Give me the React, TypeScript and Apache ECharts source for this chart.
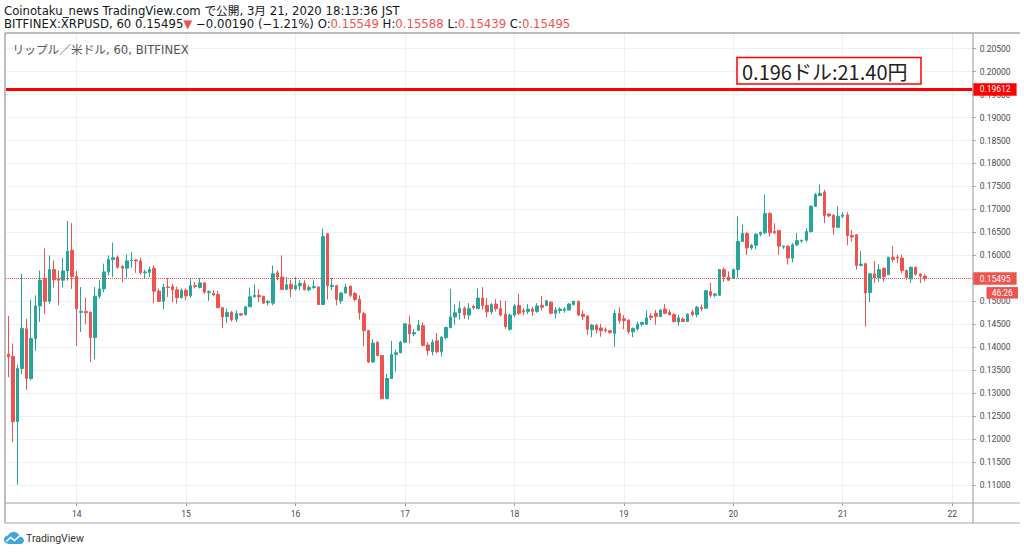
import React, { useEffect, useRef } from "react";
import * as echarts from "echarts";

// ---- data (hourly candles, XRP/USD, BITFINEX, 13 Mar 09:00 JST -> 21 Mar 18:00 JST)
const startDay = 13;
const startHour = 9;
const slotCount = 212; // hours shown on the axis (to 22 Mar ~04:00)

const opens = [
  0.1385, 0.1380, 0.1238, 0.1354, 0.1440, 0.1332, 0.1419, 0.1490, 0.1550, 0.1500,
  0.1569, 0.1549, 0.1546, 0.1566, 0.1611, 0.1554, 0.1476, 0.1478, 0.1476, 0.1421,
  0.1511, 0.1527, 0.1564, 0.1591, 0.1596, 0.1576, 0.1572, 0.1588, 0.1590, 0.1588,
  0.1562, 0.1563, 0.1572, 0.1522, 0.1500, 0.1531, 0.1532, 0.1525, 0.1508, 0.1524,
  0.1512, 0.1534, 0.1530, 0.1540, 0.1519, 0.1517, 0.1515, 0.1486, 0.1467, 0.1476,
  0.1461, 0.1473, 0.1471, 0.1488, 0.1510, 0.1513, 0.1511, 0.1497, 0.1496, 0.1562,
  0.1553, 0.1526, 0.1537, 0.1527, 0.1534, 0.1539, 0.1525, 0.1530, 0.1531, 0.1493,
  0.1647, 0.1532, 0.1534, 0.1501, 0.1518, 0.1533, 0.1517, 0.1504, 0.1473, 0.1436,
  0.1368, 0.1411, 0.1382, 0.1288, 0.1332, 0.1384, 0.1388, 0.1411, 0.1449, 0.1429,
  0.1437, 0.1447, 0.1405, 0.1390, 0.1414, 0.1390, 0.1421, 0.1443, 0.1466, 0.1475,
  0.1485, 0.1470, 0.1489, 0.1484, 0.1507, 0.1491, 0.1477, 0.1494, 0.1484, 0.1472,
  0.1439, 0.1470, 0.1491, 0.1480, 0.1478, 0.1483, 0.1478, 0.1491, 0.1491, 0.1498,
  0.1474, 0.1480, 0.1480, 0.1481, 0.1493, 0.1500, 0.1472, 0.1468, 0.1438, 0.1448,
  0.1442, 0.1438, 0.1436, 0.1430, 0.1474, 0.1462, 0.1459, 0.1434, 0.1440, 0.1450,
  0.1450, 0.1468, 0.1474, 0.1467, 0.1483, 0.1476, 0.1471, 0.1455, 0.1461, 0.1456,
  0.1477, 0.1471, 0.1487, 0.1485, 0.1521, 0.1513, 0.1513, 0.1569, 0.1553, 0.1550,
  0.1569, 0.1630, 0.1648, 0.1616, 0.1622, 0.1646, 0.1649, 0.1691, 0.1652, 0.1654,
  0.1618, 0.1620, 0.1594, 0.1623, 0.1631, 0.1633, 0.1652, 0.1707, 0.1730, 0.1738,
  0.1690, 0.1687, 0.1661, 0.1685, 0.1688, 0.1643, 0.1645, 0.1578, 0.1582, 0.1519,
  0.1560, 0.1551, 0.1572, 0.1558, 0.1596, 0.1596, 0.1594, 0.1567, 0.1549, 0.1574,
  0.1559, 0.15549,
];
const closes = [
  0.1379, 0.1238, 0.1354, 0.1441, 0.1332, 0.1419, 0.1490, 0.1546, 0.1500, 0.1569,
  0.1547, 0.1546, 0.1566, 0.1609, 0.1554, 0.1484, 0.1478, 0.1475, 0.1421, 0.1511,
  0.1527, 0.1564, 0.1591, 0.1595, 0.1574, 0.1572, 0.1588, 0.1589, 0.1588, 0.1562,
  0.1564, 0.1569, 0.1522, 0.1500, 0.1531, 0.1530, 0.1525, 0.1508, 0.1524, 0.1512,
  0.1534, 0.1532, 0.1540, 0.1520, 0.1521, 0.1514, 0.1486, 0.1466, 0.1476, 0.1460,
  0.1473, 0.1470, 0.1488, 0.1510, 0.1513, 0.1510, 0.1496, 0.1500, 0.1560, 0.1553,
  0.1526, 0.1536, 0.1527, 0.1534, 0.1539, 0.1525, 0.1530, 0.1532, 0.1493, 0.1641,
  0.1534, 0.1535, 0.1504, 0.1518, 0.1531, 0.1513, 0.1504, 0.1475, 0.1436, 0.1368,
  0.1409, 0.1382, 0.1288, 0.1332, 0.1384, 0.1388, 0.1411, 0.1451, 0.1429, 0.1432,
  0.1448, 0.1404, 0.1393, 0.1411, 0.1390, 0.1422, 0.1443, 0.1466, 0.1475, 0.1485,
  0.1470, 0.1484, 0.1486, 0.1507, 0.1491, 0.1477, 0.1493, 0.1484, 0.1470, 0.1445,
  0.1470, 0.1490, 0.1474, 0.1477, 0.1483, 0.1478, 0.1490, 0.1487, 0.1501, 0.1474,
  0.1481, 0.1483, 0.1483, 0.1494, 0.1500, 0.1470, 0.1467, 0.1439, 0.1448, 0.1438,
  0.1436, 0.1436, 0.1432, 0.1474, 0.1458, 0.1458, 0.1434, 0.1441, 0.1450, 0.1454,
  0.1464, 0.1465, 0.1467, 0.1481, 0.1474, 0.1471, 0.1456, 0.1464, 0.1456, 0.1472,
  0.1471, 0.1487, 0.1484, 0.1523, 0.1513, 0.1516, 0.1569, 0.1554, 0.1546, 0.1569,
  0.1630, 0.1648, 0.1616, 0.1622, 0.1646, 0.1650, 0.1691, 0.1649, 0.1649, 0.1620,
  0.1620, 0.1594, 0.1623, 0.1632, 0.1633, 0.1652, 0.1707, 0.1732, 0.1735, 0.1687,
  0.1686, 0.1661, 0.1685, 0.1688, 0.1643, 0.1640, 0.1578, 0.1581, 0.1518, 0.1560,
  0.1551, 0.1569, 0.1554, 0.1596, 0.1591, 0.1594, 0.1567, 0.1552, 0.1574, 0.1559,
  0.1555, 0.15495,
];
const lows = [
  0.1335, 0.1194, 0.1101, 0.1342, 0.1308, 0.1328, 0.1392, 0.1455, 0.1473, 0.1495,
  0.1530, 0.1491, 0.1530, 0.1545, 0.1527, 0.1403, 0.1433, 0.1450, 0.1368, 0.1374,
  0.1506, 0.1520, 0.1556, 0.1553, 0.1571, 0.1541, 0.1551, 0.1573, 0.1562, 0.1558,
  0.1551, 0.1553, 0.1496, 0.1498, 0.1483, 0.1509, 0.1498, 0.1495, 0.1506, 0.1502,
  0.1508, 0.1528, 0.1528, 0.1516, 0.1501, 0.1511, 0.1485, 0.1442, 0.1453, 0.1456,
  0.1455, 0.1468, 0.1469, 0.1488, 0.1508, 0.1498, 0.1495, 0.1491, 0.1491, 0.1546,
  0.1524, 0.1524, 0.1509, 0.1524, 0.1524, 0.1524, 0.1522, 0.1527, 0.1492, 0.1492,
  0.1504, 0.1524, 0.1491, 0.1495, 0.1517, 0.1509, 0.1500, 0.1460, 0.1402, 0.1366,
  0.1366, 0.1380, 0.1287, 0.1287, 0.1331, 0.1347, 0.1387, 0.1409, 0.1409, 0.1424,
  0.1435, 0.1402, 0.1382, 0.1382, 0.1387, 0.1380, 0.1417, 0.1441, 0.1449, 0.1460,
  0.1462, 0.1460, 0.1482, 0.1484, 0.1482, 0.1465, 0.1471, 0.1478, 0.1467, 0.1440,
  0.1436, 0.1465, 0.1470, 0.1470, 0.1472, 0.1468, 0.1475, 0.1480, 0.1490, 0.1472,
  0.1463, 0.1474, 0.1475, 0.1480, 0.1491, 0.1468, 0.1459, 0.1427, 0.1422, 0.1430,
  0.1423, 0.1432, 0.1429, 0.1401, 0.1451, 0.1439, 0.1429, 0.1422, 0.1436, 0.1446,
  0.1449, 0.1459, 0.1449, 0.1465, 0.1472, 0.1469, 0.1454, 0.1446, 0.1455, 0.1455,
  0.1467, 0.1465, 0.1478, 0.1484, 0.1509, 0.1509, 0.1513, 0.1542, 0.1545, 0.1549,
  0.1551, 0.1630, 0.1601, 0.1612, 0.1614, 0.1641, 0.1646, 0.1641, 0.1646, 0.1601,
  0.1614, 0.1580, 0.1585, 0.1620, 0.1627, 0.1630, 0.1649, 0.1705, 0.1729, 0.1670,
  0.1683, 0.1645, 0.1660, 0.1681, 0.1622, 0.1630, 0.1569, 0.1576, 0.1445, 0.1498,
  0.1540, 0.1542, 0.1543, 0.1557, 0.1585, 0.1583, 0.1561, 0.1547, 0.1540, 0.1556,
  0.1540, 0.15439,
];
const highs = [
  0.1468, 0.1408, 0.1362, 0.1560, 0.1462, 0.1503, 0.1513, 0.1567, 0.1615, 0.1600,
  0.1589, 0.1567, 0.1595, 0.1675, 0.1670, 0.1566, 0.1531, 0.1508, 0.1478, 0.1531,
  0.1546, 0.1582, 0.1600, 0.1628, 0.1600, 0.1579, 0.1602, 0.1607, 0.1591, 0.1595,
  0.1569, 0.1576, 0.1578, 0.1528, 0.1538, 0.1551, 0.1538, 0.1532, 0.1528, 0.1528,
  0.1551, 0.1542, 0.1551, 0.1542, 0.1524, 0.1524, 0.1523, 0.1488, 0.1484, 0.1479,
  0.1480, 0.1474, 0.1489, 0.1530, 0.1537, 0.1526, 0.1512, 0.1502, 0.1578, 0.1568,
  0.1600, 0.1553, 0.1547, 0.1553, 0.1546, 0.1546, 0.1535, 0.1547, 0.1533, 0.1658,
  0.1648, 0.1551, 0.1536, 0.1520, 0.1538, 0.1534, 0.1520, 0.1513, 0.1477, 0.1438,
  0.1418, 0.1413, 0.1383, 0.1342, 0.1414, 0.1395, 0.1414, 0.1452, 0.1469, 0.1440,
  0.1459, 0.1454, 0.1411, 0.1417, 0.1431, 0.1424, 0.1445, 0.1527, 0.1493, 0.1500,
  0.1489, 0.1496, 0.1493, 0.1528, 0.1531, 0.1507, 0.1496, 0.1505, 0.1502, 0.1501,
  0.1474, 0.1494, 0.1516, 0.1485, 0.1494, 0.1488, 0.1496, 0.1512, 0.1503, 0.1501,
  0.1487, 0.1487, 0.1487, 0.1496, 0.1501, 0.1501, 0.1480, 0.1470, 0.1451, 0.1451,
  0.1451, 0.1443, 0.1438, 0.1481, 0.1487, 0.1470, 0.1461, 0.1443, 0.1456, 0.1456,
  0.1480, 0.1474, 0.1481, 0.1483, 0.1494, 0.1482, 0.1474, 0.1471, 0.1465, 0.1474,
  0.1482, 0.1490, 0.1493, 0.1525, 0.1540, 0.1518, 0.1570, 0.1574, 0.1565, 0.1571,
  0.1685, 0.1667, 0.1650, 0.1625, 0.1648, 0.1652, 0.1732, 0.1694, 0.1670, 0.1656,
  0.1622, 0.1622, 0.1627, 0.1649, 0.1634, 0.1659, 0.1709, 0.1736, 0.1754, 0.1743,
  0.1692, 0.1690, 0.1707, 0.1694, 0.1694, 0.1655, 0.1646, 0.1609, 0.1583, 0.1561,
  0.1588, 0.1581, 0.1573, 0.1597, 0.1620, 0.1601, 0.1602, 0.1569, 0.1576, 0.1575,
  0.1561, 0.15588,
];

const yTickLabels = ["0.11000", "0.11500", "0.12000", "0.12500", "0.13000", "0.13500", "0.14000", "0.14500", "0.15000", "0.15500", "0.16000", "0.16500", "0.17000", "0.17500", "0.18000", "0.18500", "0.19000", "0.19500", "0.20000", "0.20500"];
const yMin = 0.1061;
const yMax = 0.2084;
const targetLevel = 0.19612;
const lastClose = closes[closes.length - 1];
const countdown = "46:26";

const headerLine1 = "Coinotaku_news TradingView.com で公開, 3月 21, 2020 18:13:36 JST";
const symbolText = "BITFINEX:XRPUSD, 60 0.15495";
const changeText = "−0.00190 (−1.21%)";
const ohlcText = ["0.15549", "0.15588", "0.15439", "0.15495"];
const legendText = "リップル／米ドル, 60, BITFINEX";
const noteText = "0.196ドル:21.40円";

// category labels (hours)
const categories: string[] = [];
for (let i = 0; i < slotCount; i++) {
  const h = startHour + i;
  const d = startDay + Math.floor(h / 24);
  const hh = h % 24;
  categories.push(`${d} ${hh < 10 ? "0" + hh : hh}:00`);
}
const isDayStart = (idx: number) => (startHour + idx) % 24 === 0;

const candleData = opens.map((o, i) => [o, closes[i], lows[i], highs[i]]);

const UP = "#26a69a";
const DOWN = "#ef5350";
const GRID = "#edf0f5";
const FRAME = "#a8a8a8";
const FONT = 'Roboto, "Noto Sans CJK JP", sans-serif';
const HFONT = '"DejaVu Sans", "Noto Sans CJK JP", sans-serif';
const HSIZE = 11.7;

const logoPath =
  "M5 12 C2.2 12 0 10 0 7.6 C0 5.4 1.8 3.7 4 3.6 C5 1.4 7.1 0 9.6 0 C12.6 0 15 2 15.6 4.6 C18 4.6 20 6.4 20 8.6 C20 10.5 18.4 12 16.3 12 Z";
echarts.graphic.registerShape("tvlogo", echarts.graphic.extendPath(logoPath, {}));

const priceLabel = (bg: string, text: string) => ({
  show: true,
  position: "end",
  distance: 0,
  formatter: () => text,
  backgroundColor: bg,
  color: "#ffffff",
  fontSize: 8.5,
  fontFamily: FONT,
  padding: [2, 6, 2, 7],
});

export default function App() {
  const ref = useRef<HTMLDivElement>(null);
  useEffect(() => {
    if (!ref.current) return;
    const chart = echarts.init(ref.current, null, { renderer: "svg" });
    const option: any = {
      animation: false,
      backgroundColor: "#ffffff",
      textStyle: { fontFamily: FONT },
      grid: { left: 6, right: 51.3, top: 33, bottom: 49, containLabel: false },
      xAxis: {
        type: "category",
        data: categories,
        boundaryGap: true,
        axisLine: { show: false },
        axisTick: {
          show: true,
          alignWithLabel: true,
          interval: (i: number) => isDayStart(i),
          length: 3,
          lineStyle: { color: "#999" },
        },
        axisLabel: {
          interval: (i: number) => isDayStart(i),
          formatter: (v: string) => v.split(" ")[0],
          fontSize: 8.5,
          color: "#4a4a4a",
          margin: 7,
          fontFamily: FONT,
        },
        splitLine: {
          show: true,
          alignWithLabel: true,
          interval: (i: number) => isDayStart(i),
          lineStyle: { color: GRID, width: 1 },
        },
      },
      yAxis: {
        type: "value",
        position: "right",
        min: yMin,
        max: yMax,
        splitNumber: 20,
        axisLine: { show: false },
        axisTick: { show: true, length: 3, lineStyle: { color: "#999" } },
        axisLabel: {
          formatter: (v: number) => {
            const s = v.toFixed(5);
            return yTickLabels.indexOf(s) >= 0 ? s : "";
          },
          showMinLabel: false,
          showMaxLabel: false,
          fontSize: 8.5,
          color: "#4a4a4a",
          margin: 7,
          fontFamily: FONT,
        },
        splitLine: { show: true, lineStyle: { color: GRID, width: 1 } },
      },
      series: [
        {
          type: "candlestick",
          data: candleData,
          barWidth: 3,
          itemStyle: {
            color: UP,
            color0: DOWN,
            borderColor: UP,
            borderColor0: DOWN,
            borderWidth: 1,
          },
        },
        {
          type: "line",
          data: [],
          silent: true,
          markLine: {
            symbol: ["none", "none"],
            silent: true,
            animation: false,
            precision: 5,
            data: [
              {
                yAxis: lastClose,
                lineStyle: { color: DOWN, width: 1, type: "dotted" },
                label: priceLabel(DOWN, lastClose.toFixed(5)),
              },
              {
                yAxis: targetLevel,
                lineStyle: { color: "#ff0000", width: 3, type: "solid" },
                label: priceLabel("#ff0000", targetLevel.toFixed(5)),
              },
            ],
          },
        },
      ],
    };
    chart.setOption(option);

    const yLast = chart.convertToPixel({ yAxisIndex: 0 }, lastClose) as number;

    const graphics: any[] = [
      // frame lines
      { type: "line", z: 50, shape: { x1: 5, y1: 33, x2: 1020, y2: 33 }, style: { stroke: FRAME, lineWidth: 1.5 } },
      { type: "line", z: 50, shape: { x1: 5, y1: 33, x2: 5, y2: 523 }, style: { stroke: FRAME, lineWidth: 1.5 } },
      { type: "line", z: 50, shape: { x1: 5, y1: 503, x2: 1020, y2: 503 }, style: { stroke: FRAME, lineWidth: 1.2 } },
      { type: "line", z: 50, shape: { x1: 5, y1: 523, x2: 1020, y2: 523 }, style: { stroke: FRAME, lineWidth: 1.2 } },
      { type: "line", z: 50, shape: { x1: 973, y1: 33, x2: 973, y2: 523 }, style: { stroke: FRAME, lineWidth: 1.2 } },
      // header
      {
        type: "text",
        z: 60,
        x: 4,
        y: 10.5,
        style: { text: headerLine1, fill: "#131722", fontSize: HSIZE, lineHeight: 12, fontFamily: HFONT, verticalAlign: "middle" },
      },
      {
        type: "text",
        z: 60,
        x: 4,
        y: 23.5,
        style: {
          text:
            `{k|${symbolText}}{r|▼}{k| ${changeText} O:}{r|${ohlcText[0]}}{k| H:}{r|${ohlcText[1]}}` +
            `{k| L:}{r|${ohlcText[2]}}{k| C:}{r|${ohlcText[3]}}`,
          fontSize: HSIZE,
          fontFamily: HFONT,
          lineHeight: 12,
          verticalAlign: "middle",
          rich: {
            k: { fill: "#131722", fontSize: HSIZE, lineHeight: 12, fontFamily: HFONT },
            r: { fill: DOWN, fontSize: HSIZE, lineHeight: 12, fontFamily: HFONT },
          },
        },
      },
      // inner legend
      {
        type: "text",
        z: 60,
        x: 12.5,
        y: 49.5,
        style: { text: legendText, fill: "#555555", fontSize: HSIZE, fontFamily: HFONT, verticalAlign: "middle" },
      },
      // annotation box
      {
        type: "rect",
        z: 60,
        shape: { x: 737, y: 57.5, width: 184, height: 26.5 },
        style: { fill: "#ffffff", stroke: "#ff0000", lineWidth: 1.5 },
      },
      {
        type: "text",
        z: 61,
        x: 742,
        y: 71,
        style: { text: noteText, fill: "#222222", fontSize: 20, fontFamily: '"Noto Sans CJK JP", sans-serif', verticalAlign: "middle" },
      },
      // countdown box under the last price
      {
        type: "rect",
        z: 60,
        shape: { x: 986.5, y: yLast + 8.5, width: 31.5, height: 11.5 },
        style: { fill: DOWN },
      },
      {
        type: "text",
        z: 61,
        x: 1002.3,
        y: yLast + 14.3,
        style: { text: countdown, fill: "#ffffff", fontSize: 8.5, fontFamily: FONT, align: "center", verticalAlign: "middle" },
      },
      // TradingView logo
      {
        type: "tvlogo",
        z: 60,
        x: 4,
        y: 532,
        scaleX: 1,
        scaleY: 1,
        style: { fill: "#3ea6e0" },
      },
      {
        type: "polyline",
        z: 61,
        shape: { points: [[6.5, 541.5], [10.5, 537.5], [14.5, 540.5], [20, 535.5]] },
        style: { stroke: "#ffffff", lineWidth: 1.6, fill: "none" },
      },
      {
        type: "text",
        z: 60,
        x: 26,
        y: 538.5,
        style: { text: "TradingView", fill: "#333333", fontSize: 10.5, fontFamily: FONT, verticalAlign: "middle" },
      },
    ];
    chart.setOption({ graphic: graphics });

    return () => chart.dispose();
  }, []);

  return (
    <div
      ref={ref}
      style={{ position: "fixed", left: 0, top: 0, width: 1024, height: 552, background: "#fff" }}
    />
  );
}
